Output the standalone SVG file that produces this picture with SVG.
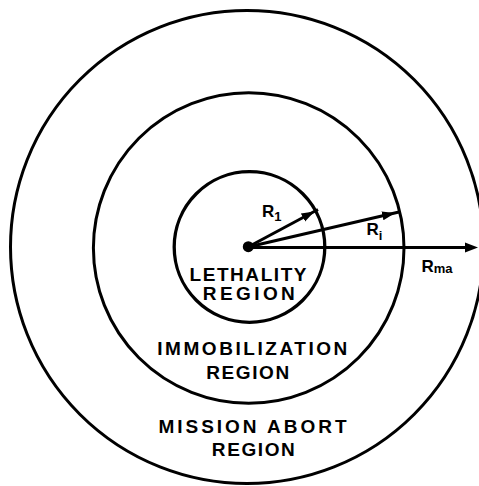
<svg xmlns="http://www.w3.org/2000/svg" width="479" height="486" viewBox="0 0 479 486">
<style>
.ring{fill:none;stroke:#000;stroke-width:3}
.arr{fill:none;stroke:#000;stroke-width:3;marker-end:url(#ah)}
.lbl{font-family:"Liberation Sans",Arial,sans-serif;font-weight:bold;font-size:19px;fill:#000;text-anchor:middle}
.r{font-family:"Liberation Sans",Arial,sans-serif;font-weight:bold;font-size:17px;fill:#000}
.sub{font-size:13px}
</style>
<defs>
<marker id="ah" markerUnits="userSpaceOnUse" markerWidth="20" markerHeight="12" viewBox="0 0 20 12" refX="17" refY="6" orient="auto">
<path d="M0,1.5 L13,6 L0,10.5 Z" fill="#000"/>
</marker>
</defs>
<rect width="479" height="486" fill="#fff"/>
<g id="mission-abort">
<circle class="ring" cx="247" cy="247" r="236.5"/>
<text class="lbl" x="252.5" y="432.7" textLength="188" lengthAdjust="spacing">MISSION ABORT</text>
<text class="lbl" x="253.3" y="456" textLength="83" lengthAdjust="spacing">REGION</text>
</g>
<g id="immobilization">
<circle class="ring" cx="248.7" cy="248" r="155.3"/>
<text class="lbl" x="252.3" y="355" textLength="190" lengthAdjust="spacing">IMMOBILIZATION</text>
<text class="lbl" x="247.7" y="379.3" textLength="83" lengthAdjust="spacing">REGION</text>
</g>
<g id="lethality">
<circle class="ring" cx="249.5" cy="247" r="75.3" style="stroke-width:3.3"/>
<text class="lbl" x="248" y="280.5" textLength="117" lengthAdjust="spacing">LETHALITY</text>
<text class="lbl" x="248.8" y="299.5" textLength="92" lengthAdjust="spacing">REGION</text>
</g>
<g id="connectors">
<line class="arr" x1="248" y1="247" x2="318" y2="209.5"/>
<line class="arr" x1="248" y1="247" x2="399" y2="212"/>
<line x1="248" y1="247.5" x2="470" y2="247.5" stroke="#000" stroke-width="3"/>
<path d="M465,242.5 L478,247.5 L465,252.5 Z" fill="#000"/>
<circle cx="248.3" cy="246.7" r="5.5" fill="#000"/>
</g>
<g id="labels">
<text class="r" x="262" y="216.5">R<tspan class="sub" dy="4.5">1</tspan></text>
<text class="r" x="366.5" y="235">R<tspan class="sub" dy="4.5">i</tspan></text>
<text class="r" x="421.5" y="271.5">R<tspan class="sub" dy="1.5">ma</tspan></text>
</g>
</svg>
